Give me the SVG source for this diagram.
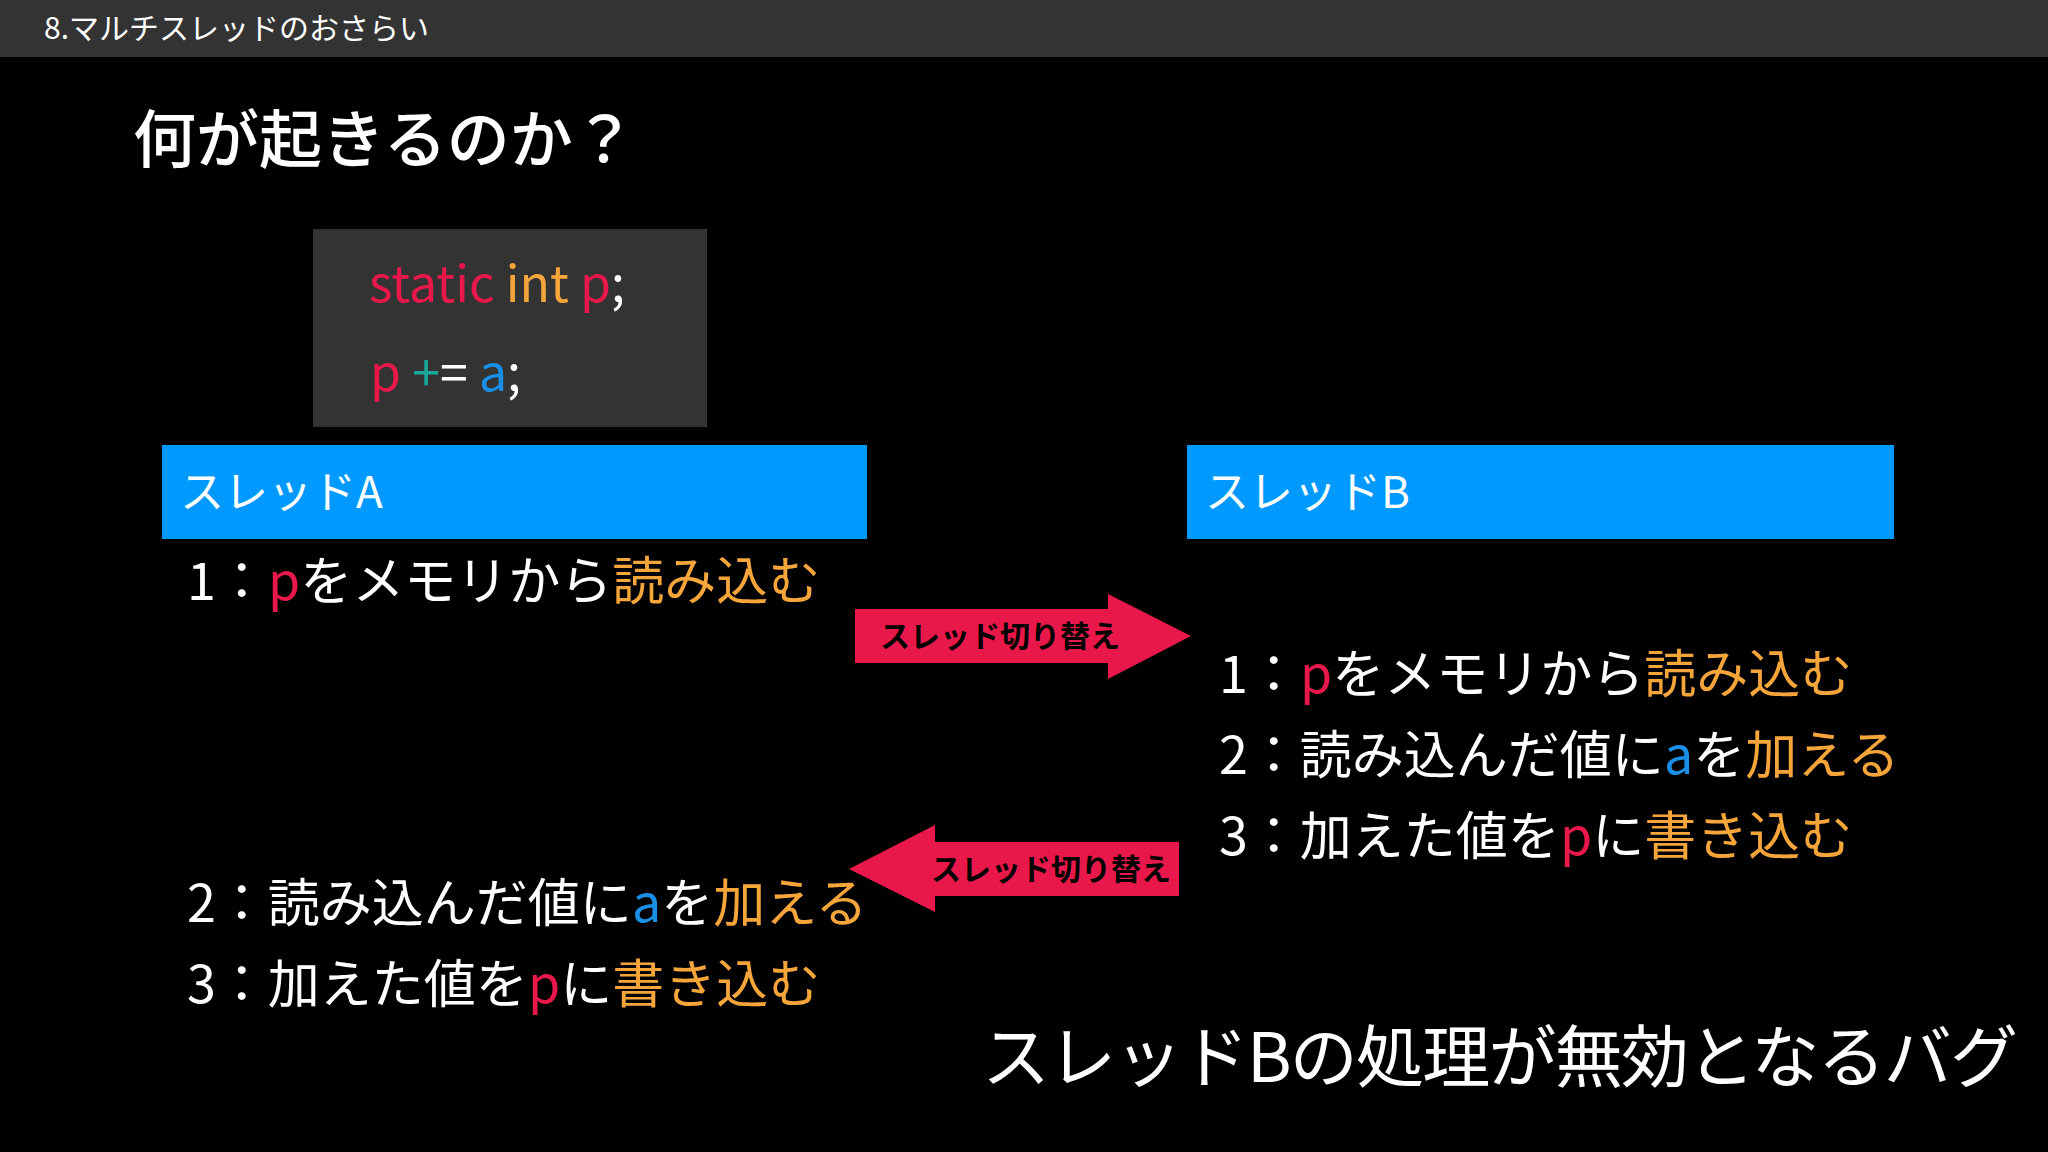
<svg xmlns="http://www.w3.org/2000/svg" width="2048" height="1152" viewBox="0 0 2048 1152">
<style>
text{font-family:"Noto Sans CJK JP","Noto Sans",sans-serif;fill:#fff}
.r{fill:#e8194a}.o{fill:#f5a53a}.b{fill:#1a8fe8}.t{fill:#1aa79a}
.ln{font-size:52px}
.sw{font-size:30px;font-weight:bold;fill:#000}
</style>
<rect width="2048" height="1152" fill="#000"/>
<rect width="2048" height="57" fill="#333"/>
<text x="44" y="39" font-size="30">8.マルチスレッドのおさらい</text>
<text x="133" y="162" font-size="63" font-weight="500">何が起きるのか？</text>
<g id="code">
<rect x="313" y="229" width="394" height="198" fill="#333"/>
<text x="369" y="302" font-size="50"><tspan class="r">static</tspan> <tspan class="o">int</tspan> <tspan class="r">p</tspan>;</text>
<text x="370" y="391" font-size="50"><tspan class="r">p</tspan> <tspan class="t">+</tspan>= <tspan class="b">a</tspan>;</text>
</g>
<g id="threadA">
<rect x="162" y="445" width="705" height="94" fill="#0099ff"/>
<text x="180" y="508" font-size="44">スレッドA</text>
<text class="ln" x="187" y="600">1：<tspan class="r">p</tspan>をメモリから<tspan class="o">読み込む</tspan></text>
<text class="ln" x="187" y="922">2：読み込んだ値に<tspan class="b">a</tspan>を<tspan class="o">加える</tspan></text>
<text class="ln" x="187" y="1003">3：加えた値を<tspan class="r">p</tspan>に<tspan class="o">書き込む</tspan></text>
</g>
<g id="threadB">
<rect x="1187" y="445" width="707" height="94" fill="#0099ff"/>
<text x="1205" y="508" font-size="44">スレッドB</text>
<text class="ln" x="1219" y="693">1：<tspan class="r">p</tspan>をメモリから<tspan class="o">読み込む</tspan></text>
<text class="ln" x="1219" y="774">2：読み込んだ値に<tspan class="b">a</tspan>を<tspan class="o">加える</tspan></text>
<text class="ln" x="1219" y="855">3：加えた値を<tspan class="r">p</tspan>に<tspan class="o">書き込む</tspan></text>
</g>
<g id="connectors">
<polygon points="855,609 1108,609 1108,594 1191,636 1108,679 1108,663 855,663" fill="#e8194a"/>
<text class="sw" x="1000" y="647" text-anchor="middle">スレッド切り替え</text>
<polygon points="1179,842 935,842 935,825 849,869 935,912 935,896 1179,896" fill="#e8194a"/>
<text class="sw" x="1051" y="880" text-anchor="middle">スレッド切り替え</text>
</g>
<text x="982" y="1082" font-size="68" textLength="1036">スレッドBの処理が無効となるバグ</text>
</svg>
